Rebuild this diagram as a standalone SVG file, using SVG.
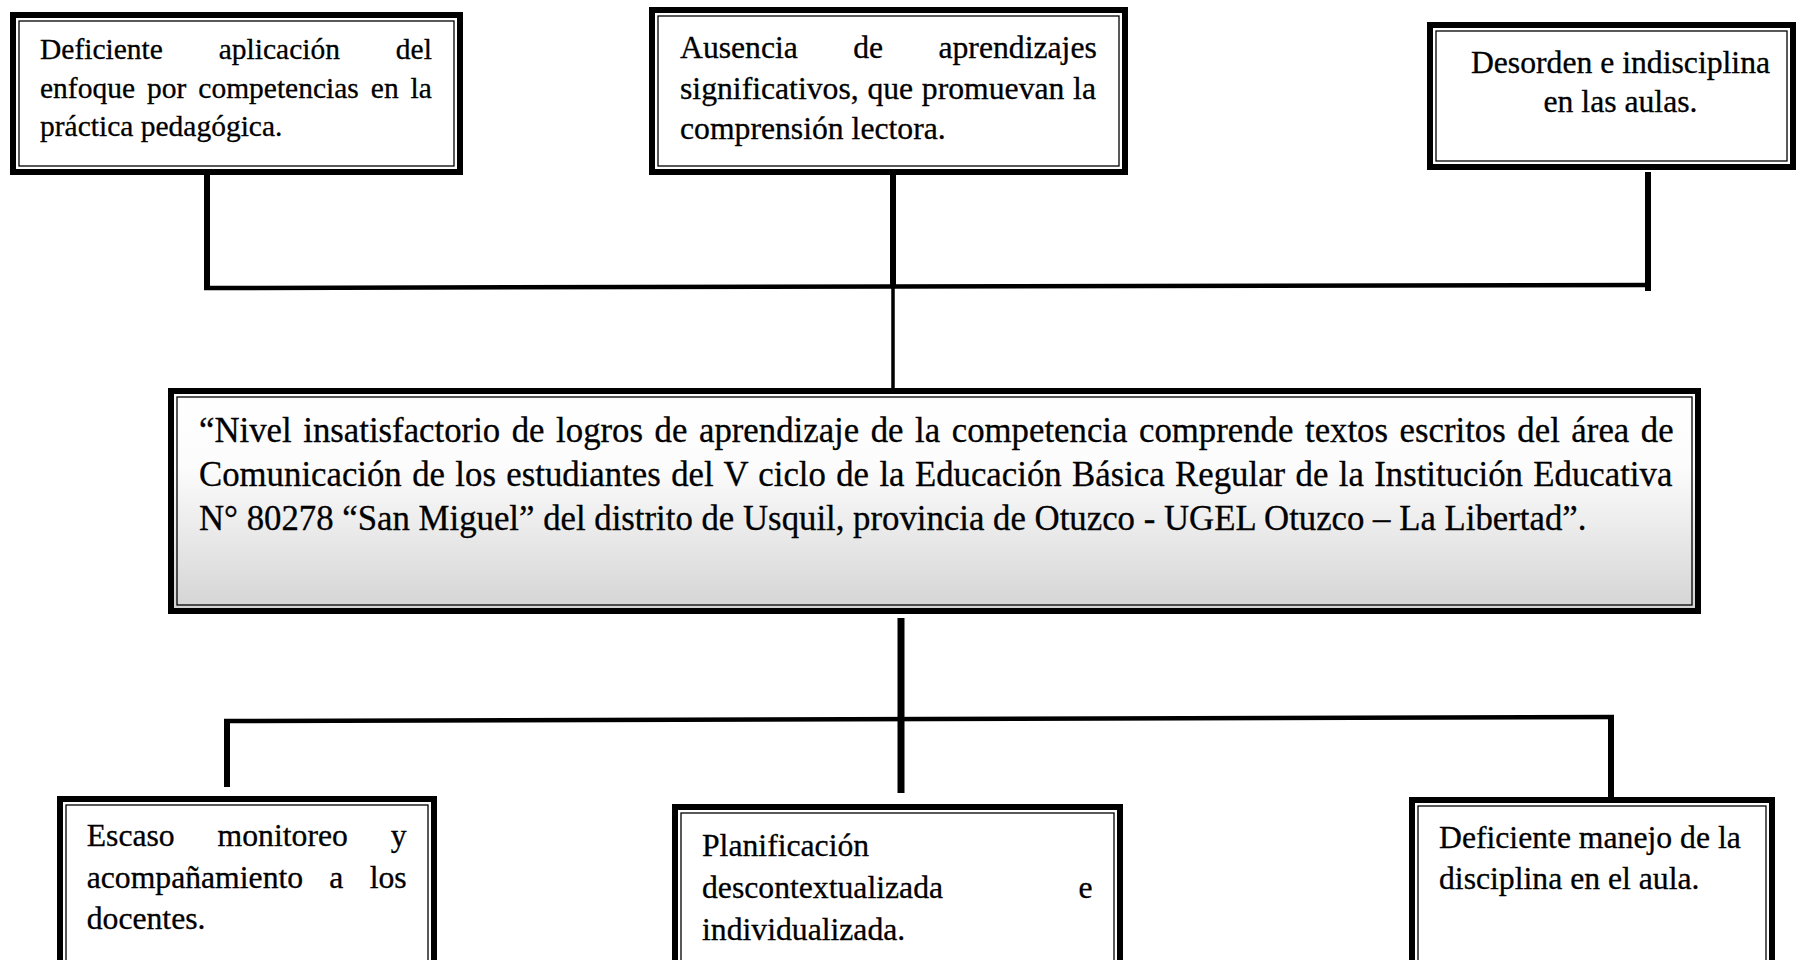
<svg xmlns="http://www.w3.org/2000/svg" width="1798" height="960" viewBox="0 0 1798 960">
<style>
.thick{fill:none;stroke:#000;stroke-width:6}
.thin{fill:none;stroke:#000;stroke-width:1.3}
.bg{fill:#fff}
.t,.t1,.tc{font-family:"Liberation Serif","Times New Roman",serif;fill:#000;stroke:#000;stroke-width:0.3}
.t{font-size:31.7px}
.t1{font-size:29.5px}
.tc{font-size:34.77px}
.stem{stroke:#000;stroke-width:6;fill:none}
.bus{stroke:#000;stroke-width:4.5;fill:none}
</style>
<defs>
<linearGradient id="cg" x1="0" y1="0" x2="0" y2="1">
<stop offset="0" stop-color="#ffffff"/>
<stop offset="0.35" stop-color="#fcfcfc"/>
<stop offset="1" stop-color="#d3d3d3"/>
</linearGradient>
</defs>
<rect width="1798" height="960" fill="#fff"/>
<g id="connectors">
<line class="stem" x1="207" y1="175" x2="207" y2="290"/>
<line class="stem" x1="893" y1="175" x2="893" y2="288"/>
<line class="stem" x1="1648" y1="172" x2="1648" y2="291"/>
<line class="bus" x1="204" y1="288" x2="1651" y2="285"/>
<line stroke="#000" stroke-width="3.5" x1="893" y1="287" x2="893" y2="396"/>
<line stroke="#000" stroke-width="7" x1="901" y1="618" x2="901" y2="793"/>
<line class="bus" x1="224" y1="721" x2="1614" y2="717"/>
<line class="stem" x1="227" y1="719" x2="227" y2="787"/>
<line class="stem" x1="1611" y1="715" x2="1611" y2="798"/>
</g>
<g id="box1">
<rect class="bg" x="10" y="12" width="453" height="163"/>
<rect class="thick" x="13" y="15" width="447" height="157"/>
<rect class="thin" x="19" y="21" width="435" height="145"/>
<text class="t1" x="40" y="59" word-spacing="48.5">Deficiente aplicación del</text>
<text class="t1" x="40" y="98" word-spacing="4.6">enfoque por competencias en la</text>
<text class="t1" x="40" y="136">práctica pedagógica.</text>
</g>
<g id="box2">
<rect class="bg" x="649" y="7" width="479" height="168"/>
<rect class="thick" x="652" y="10" width="473" height="162"/>
<rect class="thin" x="658" y="16" width="461" height="150"/>
<text class="t" x="680" y="58" word-spacing="47.4">Ausencia de aprendizajes</text>
<text class="t" x="680" y="99" word-spacing="0.8">significativos, que promuevan la</text>
<text class="t" x="680" y="139">comprensión lectora.</text>
</g>
<g id="box3">
<rect class="bg" x="1427" y="22" width="369" height="148"/>
<rect class="thick" x="1430" y="25" width="363" height="142"/>
<rect class="thin" x="1436" y="31" width="351" height="130"/>
<text class="t" x="1620.5" y="73" text-anchor="middle">Desorden e indisciplina</text>
<text class="t" x="1620.5" y="112" text-anchor="middle">en las aulas.</text>
</g>
<g id="problem">
<rect fill="url(#cg)" x="168" y="388" width="1533" height="226"/>
<rect class="thick" x="171" y="391" width="1527" height="220"/>
<rect class="thin" x="177" y="397" width="1515" height="208"/>
<text class="tc" x="199" y="442" word-spacing="2.87">“Nivel insatisfactorio de logros de aprendizaje de la competencia comprende textos escritos del área de</text>
<text class="tc" x="199" y="486" word-spacing="1.7">Comunicación de los estudiantes del V ciclo de la Educación Básica Regular de la Institución Educativa</text>
<text class="tc" x="199" y="530">N° 80278 “San Miguel” del distrito de Usquil, provincia de Otuzco - UGEL Otuzco – La Libertad”.</text>
</g>
<g id="box4">
<rect class="bg" x="57" y="796" width="380" height="180"/>
<rect class="thick" x="60" y="799" width="374" height="180"/>
<rect class="thin" x="66" y="805" width="362" height="170"/>
<text class="t" x="86.7" y="846" word-spacing="35">Escaso monitoreo y</text>
<text class="t" x="86.7" y="888" word-spacing="18.3">acompañamiento a los</text>
<text class="t" x="86.7" y="929">docentes.</text>
</g>
<g id="box5">
<rect class="bg" x="672" y="804" width="451" height="180"/>
<rect class="thick" x="675" y="807" width="445" height="180"/>
<rect class="thin" x="681" y="813" width="433" height="170"/>
<text class="t" x="702" y="856">Planificación</text>
<text class="t" x="702" y="898" word-spacing="127.4">descontextualizada e</text>
<text class="t" x="702" y="940">individualizada.</text>
</g>
<g id="box6">
<rect class="bg" x="1409" y="797" width="366" height="180"/>
<rect class="thick" x="1412" y="800" width="360" height="180"/>
<rect class="thin" x="1418" y="806" width="348" height="170"/>
<text class="t" x="1439" y="848">Deficiente manejo de la</text>
<text class="t" x="1439" y="889">disciplina en el aula.</text>
</g>
</svg>
